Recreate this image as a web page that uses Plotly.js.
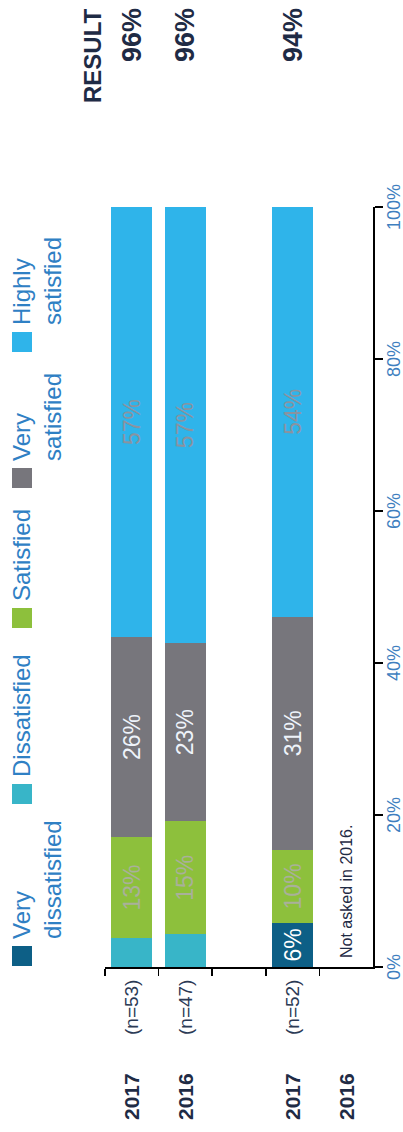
<!DOCTYPE html>
<html>
<head>
<meta charset="utf-8">
<script src="https://cdn.plot.ly/plotly-3.0.1.min.js"></script>
<style>
html,body{margin:0;padding:0;width:403px;height:1132px;overflow:hidden;background:#ffffff;}
#wrap{position:absolute;left:0;top:0;width:1132px;height:403px;transform-origin:0 0;transform:translate(0px,1132px) rotate(-90deg);}
#chart{width:1132px;height:403px;}
</style>
</head>
<body>
<div id="wrap"><div id="chart"></div></div>
<script>
// ---------------- DATA ----------------
const categories = ["2017 (n=53)", "2016 (n=47)", "gap", "2017 (n=52)", "2016 (not asked)"];
const years = ["2017", "2016", "", "2017", "2016"];
const sampleSizes = ["(n=53)", "(n=47)", "", "(n=52)", ""];
const seriesNames = ["Very dissatisfied", "Dissatisfied", "Satisfied", "Very satisfied", "Highly satisfied"];
const legendLabels = ["Very<br>dissatisfied", "Dissatisfied", "Satisfied", "Very<br>satisfied", "Highly<br>satisfied"];
const veryDissatisfied = [null, null, null, 5.8, null];
const dissatisfied     = [3.8, 4.3, null, null, null];
const satisfied        = [13.3, 14.9, null, 9.6, null];
const verySatisfied    = [26.3, 23.4, null, 30.7, null];
const highlySatisfied  = [56.6, 57.4, null, 53.9, null];
const results = ["96%", "96%", "", "94%", ""];
const resultHeader = "RESULT";
const notAskedNote = "Not asked in 2016.";
const valueTicks = [0, 20, 40, 60, 80, 100];

// ---------------- STYLE / LAYOUT ----------------
const W = 1132, H = 403;
const M = {l: 165, r: 207, t: 105, b: 30};
const PW = W - M.l - M.r, PH = H - M.t - M.b;
const px2x = ox => (ox - M.l) / PW;
const py2y = oy => (M.t + PH - oy) / PH;

const FONT = "Arial, 'Liberation Sans', sans-serif";
const colors = ["#0d5f86", "#38b5c8", "#8dc03c", "#77767c", "#2fb4ea"];
const textColors = ["#ffffff", "#ffffff", "#a9b09a", "#eef3fa", "#8a93a0"];
const showText = [true, false, true, true, true];
const seriesValues = [veryDissatisfied, dissatisfied, satisfied, verySatisfied, highlySatisfied];
const NAVY = "#1f2b45";
const BLUE_TXT = "#2f80c4";

const traces = seriesValues.map((vals, i) => ({
  type: "bar",
  orientation: "h",
  name: seriesNames[i],
  y: categories,
  x: vals,
  marker: {color: colors[i], line: {width: 0}},
  texttemplate: showText[i] ? "%{x:.0f}%" : "",
  textposition: showText[i] ? "inside" : "none",
  insidetextanchor: "middle",
  constraintext: "none",
  textangle: 0,
  textfont: {family: FONT, size: 23, color: textColors[i]},
  hoverinfo: "skip",
  showlegend: false
}));

const annotations = [];
const shapes = [];

// category labels and results
categories.forEach((c, i) => {
  if (years[i]) annotations.push({
    xref: "paper", yref: "y", x: px2x(35), y: c, xanchor: "center", yanchor: "middle",
    text: years[i], showarrow: false,
    font: {family: FONT, size: 21, color: NAVY, weight: "bold"}
  });
  if (sampleSizes[i]) annotations.push({
    xref: "paper", yref: "y", x: px2x(124), y: c, xanchor: "center", yanchor: "middle",
    text: sampleSizes[i], showarrow: false,
    font: {family: FONT, size: 19, color: "#2b3a55"}
  });
  if (results[i]) annotations.push({
    xref: "paper", yref: "y", x: px2x(1126), y: c, xanchor: "right", yanchor: "middle",
    text: results[i], showarrow: false,
    font: {family: FONT, size: 27, color: NAVY, weight: "bold"}
  });
});
annotations.push({
  xref: "paper", yref: "paper", x: px2x(1126), y: py2y(92), xanchor: "right", yanchor: "middle",
  text: resultHeader, showarrow: false,
  font: {family: FONT, size: 24, color: NAVY, weight: "bold"}
});
annotations.push({
  xref: "x", yref: "y", x: 0.9, y: categories[4], xanchor: "left", yanchor: "middle",
  text: notAskedNote, showarrow: false,
  font: {family: FONT, size: 16, color: NAVY}
});

// manual legend (page is rotated, so it is drawn with shapes + text)
const LEGEND_LEFT_PX = [166, 328, 504, 644, 780];
LEGEND_LEFT_PX.forEach((lx, i) => {
  shapes.push({
    type: "rect", xref: "paper", yref: "paper",
    x0: px2x(lx), x1: px2x(lx + 20), y0: py2y(32), y1: py2y(12),
    fillcolor: colors[i], line: {width: 0}
  });
  annotations.push({
    xref: "paper", yref: "paper", x: px2x(lx + 25), y: py2y(6), xanchor: "left", yanchor: "top",
    align: "left", text: legendLabels[i], showarrow: false,
    font: {family: FONT, size: 24, color: BLUE_TXT}
  });
});

const layout = {
  width: W, height: H,
  margin: M,
  paper_bgcolor: "#ffffff", plot_bgcolor: "#ffffff",
  barmode: "stack",
  bargap: 0.235,
  showlegend: false,
  font: {family: FONT},
  xaxis: {
    range: [0, 100], fixedrange: true,
    tickvals: valueTicks, ticktext: valueTicks.map(v => v + "%"),
    ticks: "outside", ticklen: 8, tickwidth: 1.5, tickcolor: "#000",
    ticklabelstandoff: -4,
    showline: true, linecolor: "#000", linewidth: 1.5,
    showgrid: false, zeroline: false,
    tickfont: {family: FONT, size: 18, color: "#3f7fbf"}
  },
  yaxis: {
    type: "category", categoryorder: "array", categoryarray: categories,
    range: [4.5, -0.5], fixedrange: true,
    showticklabels: false, tickson: "boundaries",
    ticks: "outside", ticklen: 7, tickwidth: 1.5, tickcolor: "#000",
    showline: true, linecolor: "#000", linewidth: 1.5,
    showgrid: false, zeroline: false
  },
  annotations: annotations,
  shapes: shapes
};

Plotly.newPlot("chart", traces, layout, {displayModeBar: false, staticPlot: true});
</script>
</body>
</html>
